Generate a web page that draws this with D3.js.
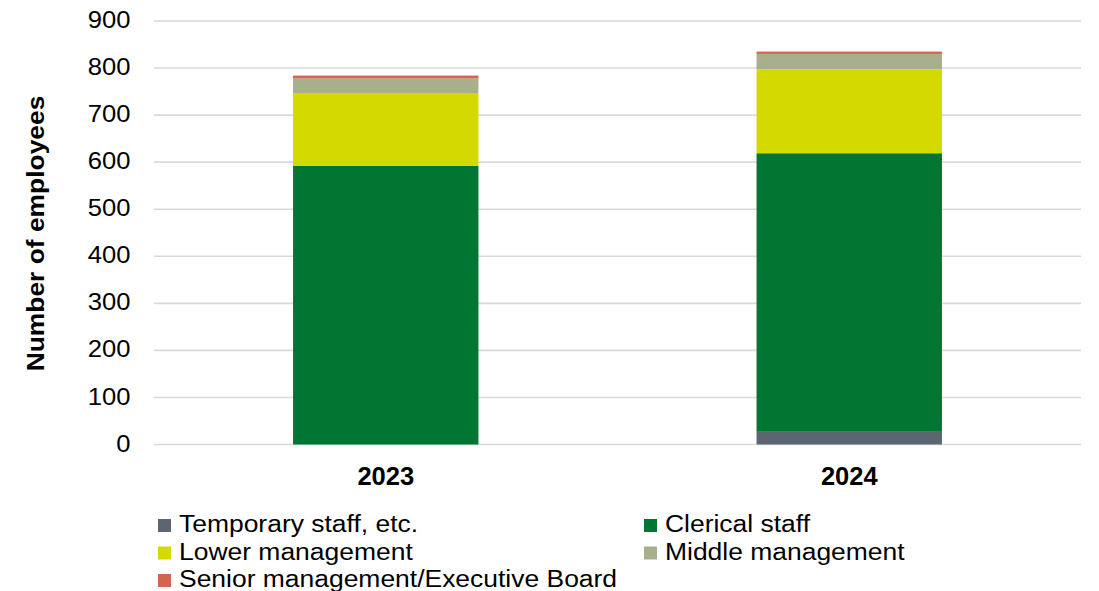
<!DOCTYPE html>
<html>
<head>
<meta charset="utf-8">
<script src="https://cdn.jsdelivr.net/npm/d3@7"></script>
<style>
  body { margin: 0; background: #fff; }
  svg { display: block; font-family: Arial, "Liberation Sans", sans-serif; }
</style>
</head>
<body>
<svg id="chart" width="1099" height="591"></svg>
<script>
const categories = ["2023", "2024"];
const seriesNames = ["Temporary staff, etc.", "Clerical staff", "Lower management", "Middle management", "Senior management/Executive Board"];
const temporary = [0, 27];
const clerical = [592, 592];
const lower = [155, 178];
const middle = [31, 33];
const senior = [6, 5];
const colors = ["#5b6670", "#007632", "#d4d900", "#a8af8c", "#cf6650"];
const yTicks = [0, 100, 200, 300, 400, 500, 600, 700, 800, 900];

const seriesValues = [temporary, clerical, lower, middle, senior];
const rows = categories.map((c, i) => {
  const r = { cat: c };
  seriesNames.forEach((s, k) => r[s] = seriesValues[k][i]);
  return r;
});

const svg = d3.select("#chart");
const x0 = 154, x1 = 1081, yTop = 21, yBot = 444.5;

const x = d3.scaleBand().domain(categories).range([x0, x1]).paddingInner(0.6).paddingOuter(0.3);
const y = d3.scaleLinear().domain([0, 900]).range([yBot, yTop]);

// gridlines
svg.append("g").selectAll("line").data(yTicks).join("line")
  .attr("x1", x0).attr("x2", x1)
  .attr("y1", d => y(d)).attr("y2", d => y(d))
  .attr("stroke", "#d9d9d9").attr("stroke-width", 1.6);

// y axis labels
const yAxis = d3.axisLeft(y).tickValues(yTicks).tickSize(0).tickPadding(0);
const yg = svg.append("g").attr("transform", `translate(130.5,0)`).call(yAxis);
yg.select(".domain").remove();
yg.selectAll("text").attr("font-size", 23.5).attr("fill", "#000")
  .attr("font-family", "Arial, 'Liberation Sans', sans-serif")
  .attr("dy", "0.28em").attr("transform", "scale(1.09,1)");

// stacked bars
const stack = d3.stack().keys(seriesNames)(rows);
svg.append("g").selectAll("g").data(stack).join("g")
  .attr("fill", (d, i) => colors[i])
  .selectAll("rect").data(d => d).join("rect")
  .attr("x", d => x(d.data.cat))
  .attr("width", x.bandwidth())
  .attr("y", d => y(d[1]))
  .attr("height", d => Math.max(0, y(d[0]) - y(d[1])));

// x axis labels
const xAxis = d3.axisBottom(x).tickSize(0).tickPadding(0);
const xg = svg.append("g").attr("transform", `translate(0,485)`).call(xAxis);
xg.select(".domain").remove();
xg.selectAll("text").attr("font-size", 25.5).attr("font-weight", "bold").attr("fill", "#000")
  .attr("font-family", "Arial, 'Liberation Sans', sans-serif").attr("dy", "0").attr("y", 0);

// y axis title
svg.append("text")
  .attr("transform", `translate(44,233.5) rotate(-90) scale(1.1,1)`)
  .attr("text-anchor", "middle")
  .attr("font-size", 24).attr("font-weight", "bold").attr("fill", "#000")
  .text("Number of employees");

// legend
const legendPos = [
  [158, 519], [644, 519],
  [158, 546.5], [644, 546.5],
  [158, 574]
];
const lg = svg.append("g").selectAll("g").data(seriesNames).join("g")
  .attr("transform", (d, i) => `translate(${legendPos[i][0]},${legendPos[i][1]})`);
lg.append("rect").attr("width", 13).attr("height", 13).attr("fill", (d, i) => colors[i]);
lg.append("text").attr("transform", "translate(21,13) scale(1.08,1)")
  .attr("font-size", 24.5).attr("fill", "#000").text(d => d);
</script>
</body>
</html>
